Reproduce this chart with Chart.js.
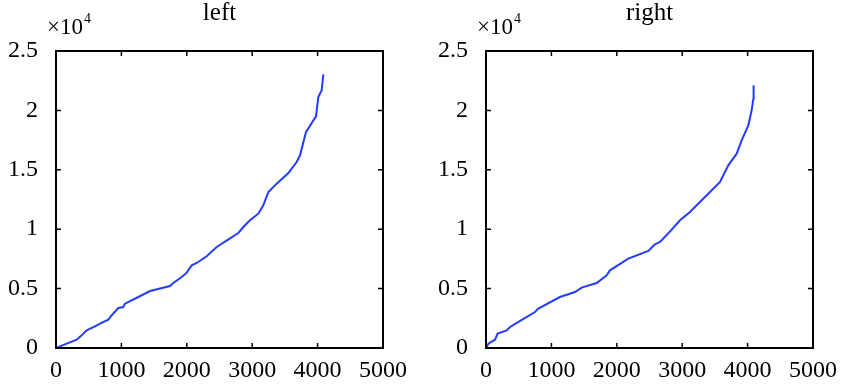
<!DOCTYPE html>
<html>
<head>
<meta charset="utf-8">
<script src="https://cdn.jsdelivr.net/npm/chart.js@4/dist/chart.umd.min.js"></script>
<style>
    body { margin: 0; background: #fff; }
    .panel { position: absolute; top: 0; width: 425px; height: 390px; }
</style>
</head>
<body>
<div class="panel" style="left:0"><canvas id="leftChart" width="425" height="390"></canvas></div>
<div class="panel" style="left:425px"><canvas id="rightChart" width="425" height="390"></canvas></div>
<script>
// values (y in raw units, axis shows x10^4)
const leftX = [0, 163, 316, 392, 469, 596, 673, 800, 851, 953, 1029, 1055, 1259, 1437, 1743, 1794, 1922, 1998, 2075, 2151, 2304, 2457, 2661, 2788, 2864, 2966, 3094, 3170, 3247, 3374, 3553, 3680, 3731, 3823, 3976, 4011, 4062, 4088];
const leftY = [0, 365, 700, 1066, 1487, 1824, 2048, 2385, 2750, 3367, 3451, 3732, 4293, 4798, 5219, 5472, 5977, 6341, 6959, 7155, 7717, 8502, 9232, 9681, 10186, 10747, 11308, 12009, 13132, 13834, 14732, 15657, 16219, 18183, 19502, 21129, 21691, 23038];

const rightX = [0, 36, 138, 178, 316, 367, 535, 749, 800, 1131, 1361, 1463, 1692, 1845, 1896, 2176, 2482, 2584, 2661, 2839, 2966, 3119, 3298, 3425, 3578, 3705, 3833, 3909, 4011, 4062, 4088, 4092];
const rightY = [0, 365, 700, 1207, 1487, 1768, 2329, 3030, 3311, 4293, 4714, 5079, 5472, 6117, 6538, 7520, 8166, 8727, 8923, 9961, 10747, 11448, 12431, 13132, 13974, 15377, 16359, 17482, 18744, 20007, 20989, 22112];

const xTicks = [0, 1000, 2000, 3000, 4000, 5000];
const yTicks = [0, 5000, 10000, 15000, 20000, 25000];
const yTickLabels = ["0", "0.5", "1", "1.5", "2", "2.5"];

const serif = "'Liberation Serif', 'Times New Roman', serif";

// frame, inward ticks on all four sides, title and exponent
const framePlugin = {
    id: "frame",
    afterDraw(chart, args, opts) {
        const ctx = chart.ctx;
        const a = chart.chartArea;
        const xs = chart.scales.x, ys = chart.scales.y;
        const tl = 5;
        ctx.save();
        ctx.strokeStyle = "#000";
        ctx.lineWidth = 2;
        ctx.strokeRect(a.left, a.top, a.right - a.left, a.bottom - a.top);
        ctx.lineWidth = 1.5;
        ctx.beginPath();
        xTicks.forEach(v => {
            const px = xs.getPixelForValue(v);
            ctx.moveTo(px, a.bottom); ctx.lineTo(px, a.bottom - tl);
            ctx.moveTo(px, a.top); ctx.lineTo(px, a.top + tl);
        });
        yTicks.forEach(v => {
            const py = ys.getPixelForValue(v);
            ctx.moveTo(a.left, py); ctx.lineTo(a.left + tl, py);
            ctx.moveTo(a.right, py); ctx.lineTo(a.right - tl, py);
        });
        ctx.stroke();

        ctx.fillStyle = "#000";
        ctx.textBaseline = "alphabetic";
        ctx.textAlign = "center";
        ctx.font = "25px " + serif;
        ctx.fillText(opts.title, (a.left + a.right) / 2, 20);

        ctx.textAlign = "left";
        ctx.font = "23px " + serif;
        const ex = opts.expX;
        ctx.fillText("\u00d710", ex, 34);
        const w = ctx.measureText("\u00d710").width;
        ctx.font = "14px " + serif;
        ctx.fillText("4", ex + w + 1, 23);
        ctx.restore();
    }
};

function makeChart(id, xs, ys, title, yWidth, padRight, expX) {
    const points = xs.map((x, i) => ({ x: x, y: ys[i] }));
    return new Chart(document.getElementById(id), {
        type: "line",
        data: {
            datasets: [{
                data: points,
                borderColor: "rgb(35, 60, 255)",
                borderWidth: 2,
                pointRadius: 0,
                tension: 0,
                fill: false
            }]
        },
        options: {
            responsive: false,
            animation: false,
            layout: { padding: { top: 51, right: padRight, left: 0, bottom: 0 } },
            plugins: {
                legend: { display: false },
                tooltip: { enabled: false },
                frame: { title: title, expX: expX }
            },
            scales: {
                x: {
                    type: "linear",
                    min: 0,
                    max: 5000,
                    afterFit: s => { s.height = 42; },
                    afterBuildTicks: s => { s.ticks = xTicks.map(v => ({ value: v })); },
                    grid: { display: false },
                    border: { display: false },
                    ticks: {
                        color: "#000",
                        padding: 0,
                        maxRotation: 0,
                        font: { family: serif, size: 24 },
                        callback: v => String(v)
                    }
                },
                y: {
                    type: "linear",
                    min: 0,
                    max: 25000,
                    afterFit: s => { s.width = yWidth; },
                    afterBuildTicks: s => { s.ticks = yTicks.map(v => ({ value: v })); },
                    grid: { display: false },
                    border: { display: false },
                    ticks: {
                        color: "#000",
                        padding: 10,
                        font: { family: serif, size: 24 },
                        callback: v => yTickLabels[yTicks.indexOf(v)]
                    }
                }
            }
        },
        plugins: [framePlugin]
    });
}

makeChart("leftChart", leftX, leftY, "left", 56, 42, 47);
makeChart("rightChart", rightX, rightY, "right", 61, 37, 52);
</script>
</body>
</html>
